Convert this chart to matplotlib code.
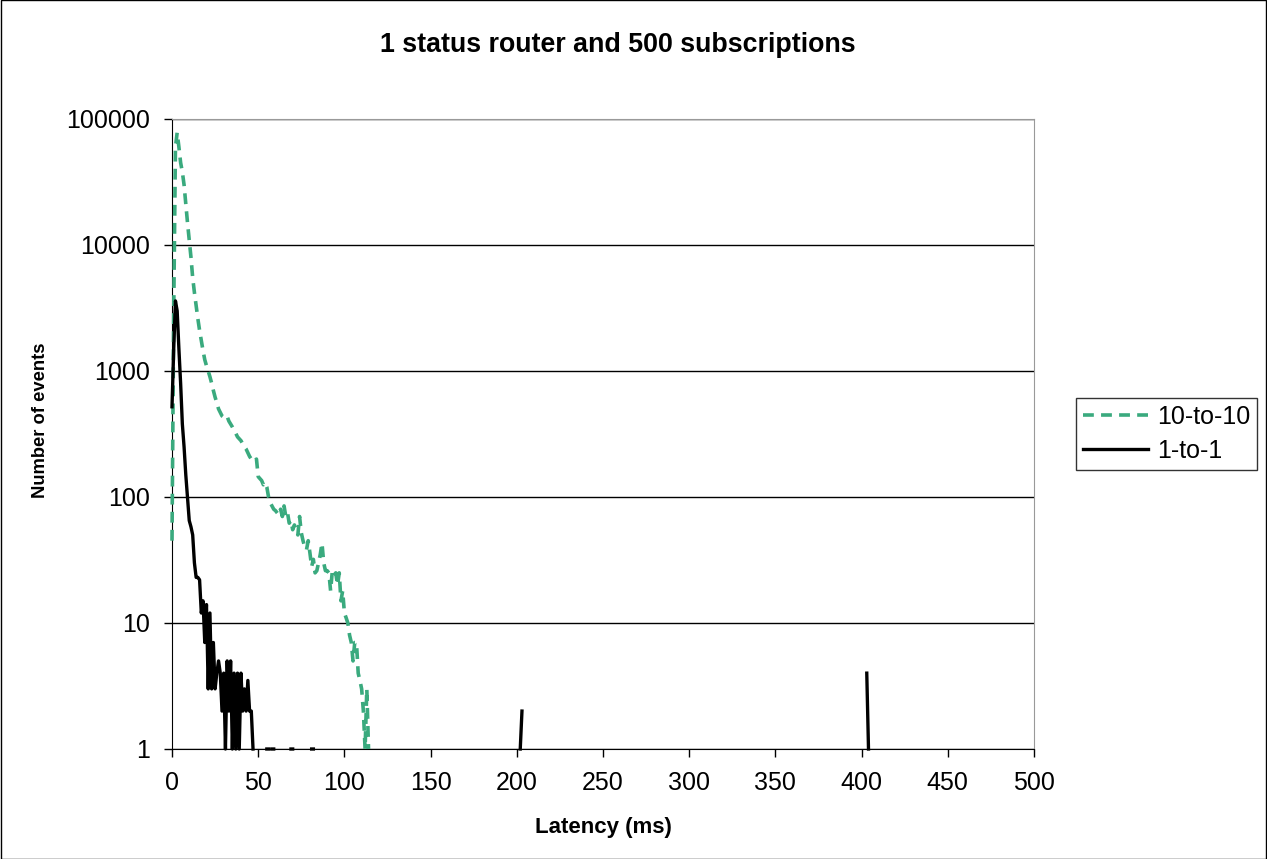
import matplotlib
matplotlib.use("Agg")
import matplotlib.pyplot as plt
import numpy as np

plt.rcParams['font.family'] = ['Liberation Sans', 'DejaVu Sans']

# histogram of latency, 1 ms bins
latency_max = 500

# 10-to-10, counts for 0..114 ms
green_counts = [45, 3000, 60000, 78000, 60000, 45000, 38000, 30000, 21000, 15000,
                11000, 8000, 5500, 4200, 3300, 2600, 2100, 1750, 1450, 1230,
                1100, 1000, 900, 800, 700, 620, 560, 500, 470, 440,
                430, 420, 435, 400, 380, 360, 340, 320, 300, 290,
                280, 265, 250, 240, 225, 210, 200, 205, 195, 200,
                145, 140, 135, 125, 130, 120, 100, 90, 85, 80,
                78, 75, 72, 80, 70, 85, 70, 75, 62, 65,
                55, 60, 55, 50, 70, 52, 45, 40, 38, 45,
                36, 28, 32, 25, 26, 30, 35, 43, 30, 26,
                26, 25, 18, 26, 24, 25, 20, 25, 15, 18,
                12, 11, 10, 8, 7, 5, 7, 7, 4, 3.5,
                3, 2, 1, 3, 1]

# 1-to-1, counts for 0..47 ms
black_counts = [520, 1500, 3600, 3000, 1500, 800, 380, 250, 150, 100,
                65, 58, 50, 30, 23, 23, 22, 12, 15, 7,
                14, 3, 12, 3, 7, 3, 4, 5, 4, 2,
                4, 1, 5, 2, 5, 1, 4, 1, 4, 1,
                4, 2, 3, 2, 3.5, 2, 2, 1]
# isolated non-empty bins of 1-to-1 further out
black_sparse_ms = [55, 56, 58, 59, 69, 70, 81, 82, 202, 203, 403, 404]
black_sparse_n = [1, 1, 1, 1, 1, 1, 1, 1, 1, 2, 4, 1]

x = np.arange(latency_max + 1)
green = np.full(len(x), np.nan)
green[:len(green_counts)] = green_counts
black = np.full(len(x), np.nan)
black[:len(black_counts)] = black_counts
black[black_sparse_ms] = black_sparse_n

W, H = 1267, 859
fig = plt.figure(figsize=(W/100, H/100), dpi=100)
ax = fig.add_axes([172/W, 1 - 749/H, (1034-172)/W, (749-119)/H])

ax.plot(x, green, color='#3AAA7E', lw=2.6, ls=(0, (3, 2)), label='10-to-10',
        clip_on=False, zorder=3)
ax.plot(x, black, color='black', lw=2.4, label='1-to-1', clip_on=False, zorder=4)

ax.set_yscale('log')
ax.set_ylim(1, 100000)
ax.set_xlim(0, 500)
ax.set_xticks(np.arange(0, 501, 50))
ax.set_yticks([1, 10, 100, 1000, 10000, 100000])
ax.set_yticklabels(['1', '10', '100', '1000', '10000', '100000'])
ax.yaxis.set_minor_locator(matplotlib.ticker.NullLocator())
ax.yaxis.grid(True, color='black', lw=1)
ax.set_axisbelow(True)
ax.tick_params(labelsize=18, direction='out', length=5.5, width=1, color='black')
ax.tick_params(axis='y', pad=10)
ax.tick_params(axis='x', pad=10)

for s in ['top', 'right']:
    ax.spines[s].set_color('#999999')
for s in ['left', 'bottom']:
    ax.spines[s].set_color('black')

fig.text(603/W, 1 - 828/H, 'Latency (ms)', ha='center', va='center',
         fontsize=16, fontweight='bold')
fig.text(41/W, 1 - 420/H, 'Number of events', ha='center', va='center',
         rotation=90, fontsize=13.2, fontweight='bold')
fig.text(618/W, 1 - 45/H, '1 status router and 500 subscriptions',
         ha='center', va='center', fontsize=19.3, fontweight='bold')

leg = ax.legend(loc='upper left', bbox_to_anchor=(1076/W, 1 - 398/H),
                bbox_transform=fig.transFigure, fontsize=18, frameon=True,
                fancybox=False, edgecolor='black', handlelength=2.6,
                handletextpad=0.36, borderpad=0.28, labelspacing=0.4,
                borderaxespad=0)
leg.get_frame().set_linewidth(1)

fig.patches.append(plt.Rectangle((0.0005, 0.0005), 0.999, 0.999, fill=False,
                                 edgecolor='black', lw=1, transform=fig.transFigure))

fig.savefig('out.png', dpi=100)
